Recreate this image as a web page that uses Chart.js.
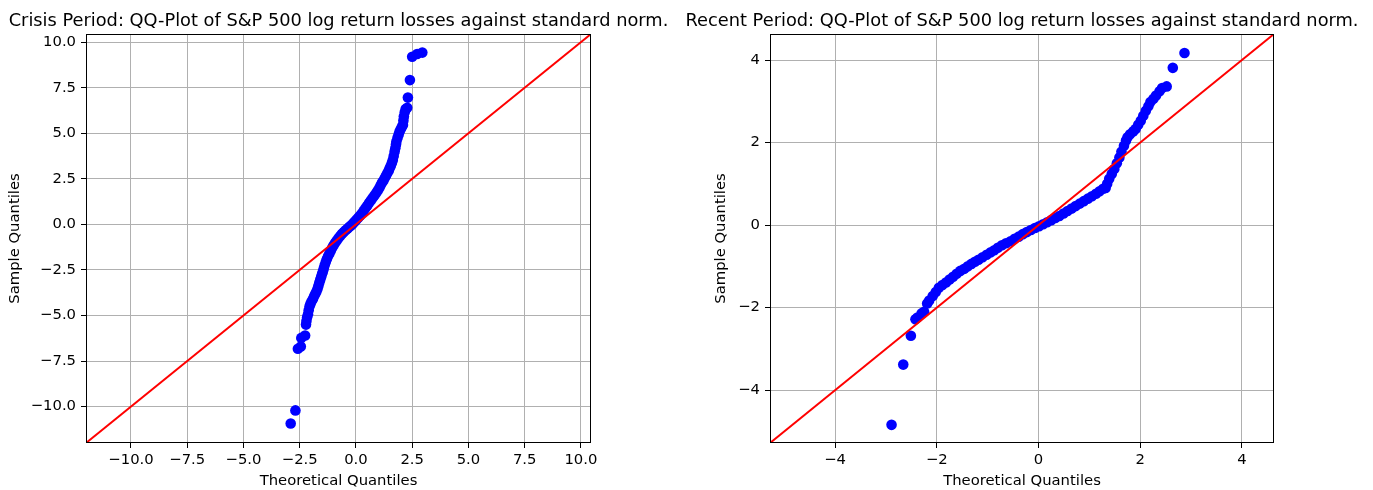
<!DOCTYPE html>
<html>
<head>
<meta charset="utf-8">
<script src="https://cdn.jsdelivr.net/npm/chart.js@4.4.1/dist/chart.umd.min.js"></script>
<style>
    body { margin: 0; background: #fff; }
    .panel { position: absolute; top: 0; }
</style>
</head>
<body>
<div class="panel" style="left:0px"><canvas id="crisisChart" width="686" height="490"></canvas></div>
<div class="panel" style="left:686px"><canvas id="recentChart" width="687" height="490"></canvas></div>
<script>
// Crisis period: theoretical vs sample quantiles
const crisisTheo = [
    -2.90, -2.69, -2.58, -2.45, -2.43, -2.26, -2.22, -2.20, -2.17, -2.13,
    -2.10, -2.06, -2.02, -1.97, -1.91, -1.86, -1.81, -1.76, -1.71, -1.67,
    -1.63, -1.59, -1.55, -1.51, -1.47, -1.43, -1.39, -1.34, -1.29, -1.24,
    -1.18, -1.12, -1.06, -1.00, -0.93, -0.86, -0.78, -0.70, -0.62, -0.54,
    -0.46, -0.38, -0.30, -0.22, -0.14, -0.06, 0.02, 0.10, 0.18, 0.26,
    0.34, 0.42, 0.50, 0.58, 0.66, 0.74, 0.82, 0.90, 0.97, 1.04,
    1.10, 1.16, 1.22, 1.28, 1.34, 1.40, 1.46, 1.50, 1.55, 1.60,
    1.64, 1.68, 1.72, 1.75, 1.78, 1.80, 1.85, 1.90, 1.94, 1.99,
    2.04, 2.09, 2.11, 2.13, 2.17, 2.21, 2.28, 2.31, 2.40, 2.50,
    2.72, 2.95
];
const crisisSample = [
    -10.93, -10.21, -6.83, -6.70, -6.23, -6.10, -5.50, -5.30, -5.10, -4.93,
    -4.72, -4.50, -4.35, -4.22, -4.10, -3.95, -3.82, -3.70, -3.55, -3.38,
    -3.20, -3.05, -2.90, -2.74, -2.58, -2.42, -2.24, -2.06, -1.90, -1.75,
    -1.60, -1.45, -1.30, -1.16, -1.02, -0.90, -0.76, -0.64, -0.52, -0.42,
    -0.32, -0.24, -0.15, -0.06, 0.04, 0.14, 0.25, 0.37, 0.48, 0.60,
    0.74, 0.88, 1.02, 1.17, 1.31, 1.45, 1.58, 1.72, 1.86, 2.00,
    2.15, 2.30, 2.40, 2.54, 2.68, 2.82, 2.96, 3.08, 3.22, 3.38,
    3.54, 3.76, 4.00, 4.18, 4.38, 4.55, 4.75, 4.93, 5.10, 5.22,
    5.35, 5.46, 5.70, 5.92, 6.15, 6.33, 6.40, 6.96, 7.92, 9.20,
    9.35, 9.43
];
const crisisLimits = [-12.0, 10.45];
const crisisTicks = [-10, -7.5, -5, -2.5, 0, 2.5, 5, 7.5, 10];

// Recent period
const recentTheo = [
    -2.89, -2.66, -2.51, -2.42, -2.38, -2.30, -2.25, -2.19, -2.15, -2.08,
    -2.02, -1.96, -1.89, -1.82, -1.75, -1.68, -1.61, -1.54, -1.46, -1.39,
    -1.32, -1.25, -1.18, -1.10, -1.02, -0.94, -0.87, -0.80, -0.72, -0.64,
    -0.55, -0.47, -0.39, -0.31, -0.23, -0.15, -0.07, 0.01, 0.09, 0.17,
    0.25, 0.33, 0.41, 0.49, 0.57, 0.65, 0.73, 0.81, 0.89, 0.97,
    1.05, 1.13, 1.20, 1.27, 1.32, 1.35, 1.39, 1.44, 1.49, 1.54,
    1.59, 1.63, 1.68, 1.72, 1.75, 1.80, 1.86, 1.91, 1.96, 2.01,
    2.06, 2.11, 2.16, 2.20, 2.26, 2.31, 2.38, 2.43, 2.52, 2.64,
    2.87
];
const recentSample = [
    -4.84, -3.38, -2.68, -2.28, -2.24, -2.14, -2.10, -1.90, -1.83, -1.72,
    -1.62, -1.52, -1.45, -1.39, -1.32, -1.25, -1.18, -1.11, -1.06, -1.00,
    -0.94, -0.89, -0.84, -0.78, -0.72, -0.66, -0.61, -0.55, -0.49, -0.44,
    -0.39, -0.33, -0.28, -0.22, -0.17, -0.12, -0.07, -0.03, 0.02, 0.07,
    0.12, 0.17, 0.22, 0.28, 0.34, 0.40, 0.46, 0.52, 0.58, 0.64,
    0.70, 0.76, 0.82, 0.88, 0.90, 1.00, 1.12, 1.24, 1.36, 1.50,
    1.64, 1.78, 1.92, 2.05, 2.13, 2.20, 2.27, 2.33, 2.43, 2.53,
    2.65, 2.77, 2.88, 2.98, 3.06, 3.14, 3.24, 3.32, 3.36, 3.81,
    4.17
];
const recentLimits = [-5.28, 4.63];
const recentTicks = [-4, -2, 0, 2, 4];

const FONT = 'DejaVu Sans';

// Frame + title drawn on top, like matplotlib spines
const framePlugin = {
    id: 'frame',
    afterDraw(chart, args, opts) {
        const { ctx, chartArea: a } = chart;
        ctx.save();
        ctx.strokeStyle = '#000';
        ctx.lineWidth = 1;
        ctx.strokeRect(Math.round(a.left) + 0.5, Math.round(a.top) + 0.5,
            Math.round(a.right - a.left) - 1, Math.round(a.bottom - a.top) - 1);
        ctx.fillStyle = '#000';
        ctx.font = '17.8px "' + FONT + '"';
        ctx.textAlign = 'center';
        ctx.textBaseline = 'alphabetic';
        ctx.fillText(opts.text, (a.left + a.right) / 2, 26);
        ctx.restore();
    }
};

function fmt(decimals) {
    return v => v.toFixed(decimals).replace('-', '\u2212');
}

function makeAxis(limits, ticks, decimals, isX, size, titlePad) {
    return {
        type: 'linear',
        min: limits[0],
        max: limits[1],
        afterBuildTicks: scale => { scale.ticks = ticks.map(v => ({ value: v })); },
        afterFit: scale => { if (isX) scale.height = size; else scale.width = size; },
        grid: { color: '#b0b0b0', lineWidth: 1, tickLength: 5, tickColor: '#000' },
        border: { display: false },
        ticks: {
            color: '#000',
            font: { family: FONT, size: 14.8 },
            padding: isX ? 3 : 5,
            maxRotation: 0,
            autoSkip: false,
            callback: fmt(decimals)
        },
        title: {
            display: true,
            text: isX ? 'Theoretical Quantiles' : 'Sample Quantiles',
            color: '#000',
            font: { family: FONT, size: 14.8 },
            padding: titlePad
        }
    };
}

function drawQQ(canvasId, title, theo, sample, limits, ticks, decimals, yWidth, rightPad, yTitlePad) {
    const points = theo.map((x, i) => ({ x: x, y: sample[i] }));
    const line = limits.map(v => ({ x: v, y: v }));
    return new Chart(document.getElementById(canvasId), {
        type: 'scatter',
        data: {
            datasets: [
                {
                    type: 'line',
                    data: line,
                    borderColor: '#ff0000',
                    borderWidth: 2,
                    pointRadius: 0,
                    fill: false,
                    order: 0
                },
                {
                    data: points,
                    backgroundColor: '#0000ff',
                    borderColor: '#0000ff',
                    borderWidth: 0,
                    pointRadius: 5.3,
                    order: 1
                }
            ]
        },
        options: {
            responsive: false,
            animation: false,
            layout: { padding: { top: 34, left: 0, right: rightPad, bottom: 0 } },
            plugins: {
                legend: { display: false },
                tooltip: { enabled: false },
                frame: { text: title }
            },
            scales: {
                x: makeAxis(limits, ticks, decimals, true, 47, { top: 4, bottom: 0 }),
                y: makeAxis(limits, ticks, decimals, false, yWidth, { top: yTitlePad, bottom: 4 })
            }
        },
        plugins: [framePlugin]
    });
}

drawQQ('crisisChart', 'Crisis Period: QQ-Plot of S&P 500 log return losses against standard norm.',
    crisisTheo, crisisSample, crisisLimits, crisisTicks, 1, 86, 95, 6);
drawQQ('recentChart', 'Recent Period: QQ-Plot of S&P 500 log return losses against standard norm.',
    recentTheo, recentSample, recentLimits, recentTicks, 0, 84, 99, 26);
</script>
</body>
</html>
